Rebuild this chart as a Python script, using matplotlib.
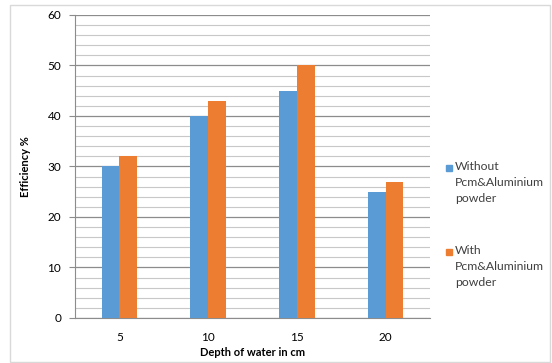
import numpy as np
import matplotlib.pyplot as plt
from matplotlib.patches import Rectangle

depths = ["5", "10", "15", "20"]
without_pcm = [30, 40, 45, 25]
with_pcm = [32, 43, 50, 27]
labels = ["Without\nPcm&Aluminium\npowder", "With\nPcm&Aluminium\npowder"]
colors = ['#5b9bd5', '#ed7d31']

plt.rcParams['font.family'] = ['Lato', 'DejaVu Sans']

W, H = 552, 363
fig = plt.figure(figsize=(W / 100, H / 100), dpi=100)
ax = fig.add_axes([0.136, 0.124, 0.643, 0.835])

# outer frame of the chart
fig.patches.append(Rectangle((0.018, 0.004), 0.978, 0.982, transform=fig.transFigure,
                             fill=False, edgecolor='#d9d9d9', linewidth=1))

x = np.arange(len(depths))
w = 0.2
ax.bar(x - w / 2, without_pcm, w, color=colors[0], zorder=3)
ax.bar(x + w / 2, with_pcm, w, color=colors[1], zorder=3)

ax.set_xlim(-0.5, 3.5)
ax.set_ylim(0, 60)
ax.set_yticks(np.arange(0, 61, 10))
ax.set_yticks(np.arange(0, 61, 2), minor=True)
ax.set_xticks(x)
ax.set_xticklabels(depths)
ax.grid(axis='y', which='major', color='#8c8c8c', linewidth=0.9, zorder=0)
ax.grid(axis='y', which='minor', color='#c8c8c8', linewidth=0.8, zorder=0)
ax.tick_params(axis='y', which='major', length=4, color='#8c8c8c', labelsize=8.5, pad=6)
ax.tick_params(axis='y', which='minor', length=0)
ax.tick_params(axis='x', length=0, labelsize=8.5, pad=10)

for s in ['top', 'right']:
    ax.spines[s].set_visible(False)
ax.spines['left'].set_color('#8c8c8c')
ax.spines['bottom'].set_color('#8c8c8c')

ax.set_ylabel("Efficiency %", fontsize=8, fontweight='bold', labelpad=12)
ax.set_xlabel("Depth of water in cm", fontsize=8, fontweight='bold', labelpad=3)

# legend: square next to the first line of each label
for lab, col, ytop in zip(labels, colors, [168, 252]):
    fig.patches.append(Rectangle((446 / W, 1 - (ytop + 3) / H), 6 / W, 6 / H,
                                 transform=fig.transFigure, color=col))
    fig.text(455 / W, 1 - (ytop - 7) / H, lab, fontsize=8.8, va='top', ha='left',
             linespacing=1.55, color='#404040')

plt.savefig("out.png", dpi=100)
